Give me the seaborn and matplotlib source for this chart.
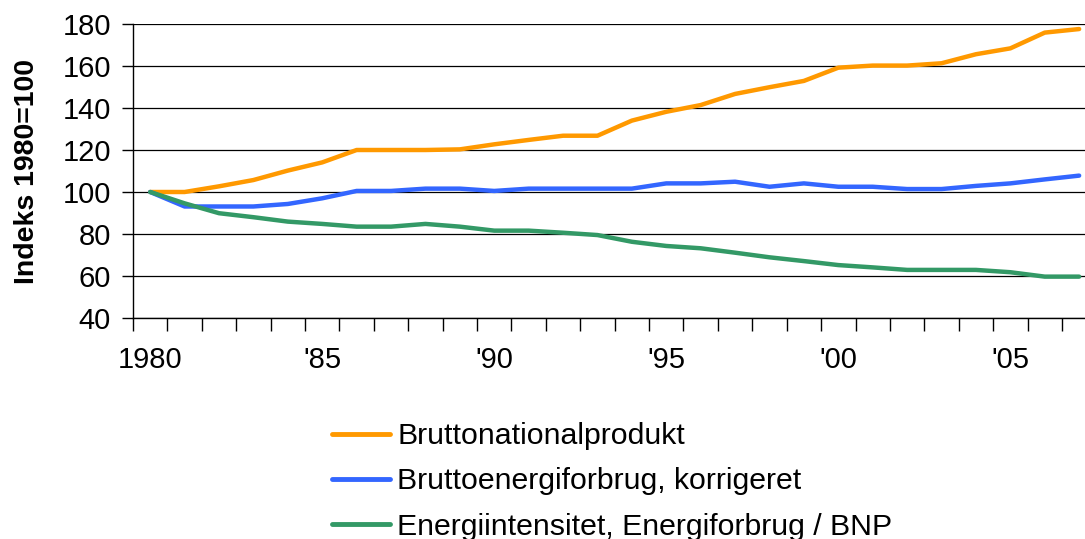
import matplotlib
matplotlib.use("Agg")
import matplotlib.pyplot as plt
import seaborn as sns
import pandas as pd
import numpy as np
from matplotlib.ticker import FixedLocator, MultipleLocator

years = list(range(1980, 2008))
bnp = [100, 100, 102.7, 105.7, 110.2, 114.1, 120, 120, 120, 120.3, 122.7, 124.8, 126.8, 126.8,
       134, 138.2, 141.4, 146.7, 149.9, 152.9, 159.2, 160.2, 160.2, 161.3, 165.6, 168.4, 175.9, 177.6]
energi = [100, 93.1, 93.1, 93.1, 94.3, 97, 100.5, 100.5, 101.6, 101.6, 100.5, 101.6, 101.6, 101.6,
          101.6, 104.1, 104.1, 104.9, 102.5, 104.1, 102.5, 102.5, 101.4, 101.4, 102.9, 104.1, 106, 107.8]
intens = [100, 94.6, 89.9, 88, 85.9, 84.8, 83.5, 83.5, 84.8, 83.5, 81.6, 81.6, 80.6, 79.5,
          76.3, 74.3, 73.2, 71.1, 68.9, 67.1, 65.2, 64.1, 62.9, 62.9, 62.9, 61.8, 59.7, 59.7]
series_names = ["Bruttonationalprodukt", "Bruttoenergiforbrug, korrigeret",
                "Energiintensitet, Energiforbrug / BNP"]
colors = ["#FF9900", "#3366FF", "#339966"]
xtick_years = [1980, 1985, 1990, 1995, 2000, 2005]
xtick_labels = ["1980", "'85", "'90", "'95", "'00", "'05"]
ylabel = "Indeks 1980=100"

df = pd.concat([
    pd.DataFrame({"year": years, "value": vals, "serie": name})
    for name, vals in zip(series_names, [bnp, energi, intens])
])

sns.set_style("white")
plt.rcParams["font.family"] = ["Liberation Sans", "DejaVu Sans"]
plt.rcParams["text.color"] = "#000000"
plt.rcParams["xtick.color"] = "#000000"
plt.rcParams["ytick.color"] = "#000000"
plt.rcParams["axes.labelcolor"] = "#000000"

fig = plt.figure(figsize=(10.85, 5.39), dpi=100)
ax = fig.add_axes([133/1085, 1 - 318/539, 1 - 133/1085, (318 - 24)/539])

sns.lineplot(data=df, x="year", y="value", hue="serie", palette=colors,
             hue_order=series_names, linewidth=3.2, ax=ax, legend=False)

ax.set_xlim(1979.5, 2007.17)
ax.set_ylim(40, 180)
ax.yaxis.set_major_locator(MultipleLocator(20))
ax.grid(axis="y", color="#000000", linewidth=0.9)
ax.set_axisbelow(True)

ax.set_xticks(xtick_years)
ax.set_xticklabels(xtick_labels)
ax.xaxis.set_minor_locator(FixedLocator(np.arange(1979.5, 2007, 1)))
ax.tick_params(axis="x", which="both", bottom=True)
ax.tick_params(axis="x", which="major", length=0, pad=20, labelsize=21)
ax.tick_params(axis="x", which="minor", length=9, width=1, color="#000000", direction="out")
ax.tick_params(axis="y", which="major", left=True, length=8, width=1, color="#000000",
               direction="out", labelsize=21, pad=8)
ax.set_xlabel("")
ax.set_ylabel(ylabel, fontsize=20.5, fontweight="bold", labelpad=16)

for s in ["top", "right"]:
    ax.spines[s].set_visible(False)
for s in ["left", "bottom"]:
    ax.spines[s].set_color("#000000")
    ax.spines[s].set_linewidth(1.0)

handles = [plt.Line2D([], [], color=c, linewidth=3.5) for c in colors]
fig.legend(handles, series_names, loc="upper left",
           bbox_to_anchor=(320/1085, 1 - 410/539), frameon=False,
           fontsize=21.8, handlelength=1.9, handletextpad=0.25, labelspacing=0.57,
           borderaxespad=0)

fig.savefig("out.png", dpi=100)
